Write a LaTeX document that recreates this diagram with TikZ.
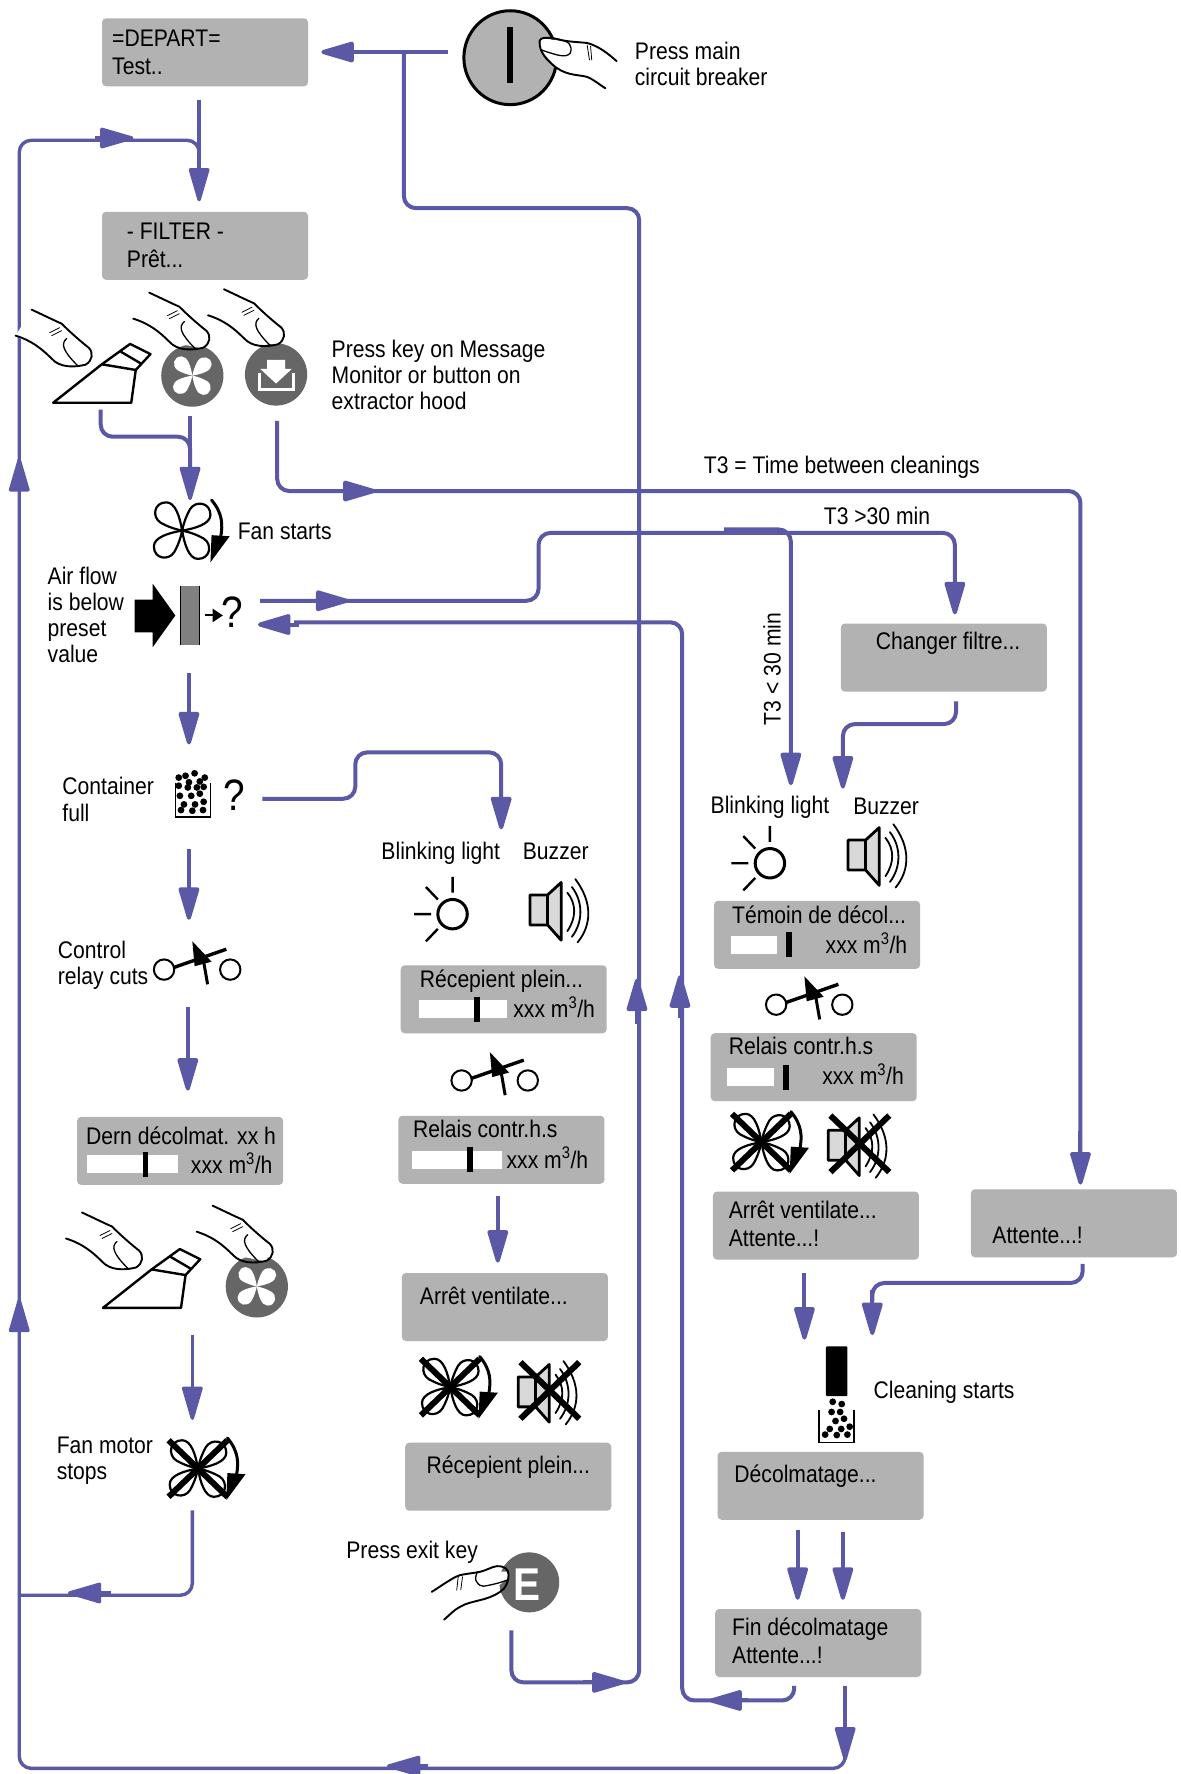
\documentclass[tikz,border=0pt]{standalone}
\usepackage{fontspec}
\setmainfont{Liberation Sans}[FakeStretch=0.88]
\usetikzlibrary{arrows.meta}
\definecolor{flowc}{HTML}{5B58A6}
\definecolor{lcdc}{HTML}{B2B2B2}
\definecolor{darkc}{HTML}{666666}
\definecolor{spkc}{HTML}{D9D9D9}
\newcommand\petal{(0,0) .. controls (-2,-12) and (-6,-25) .. (-14,-25) .. controls (-25,-25) and (-27,-12) .. (-19,-7) .. controls (-12,-3) and (-5,-1) .. (0,0)}
\tikzset{
  flow/.style={draw=flowc,line width=4pt,line join=round},
  elbow/.style={rounded corners=12pt},
  tipped/.style={-{Triangle[length=38pt,width=21pt,round=false]}},
  lcd/.style={fill=lcdc,rounded corners=4pt,anchor=north west,minimum width=206pt,minimum height=68pt,inner sep=0pt},
  lab/.style={anchor=west,align=left,inner sep=0pt,yshift=-3pt,font=\fontsize{24}{26}\selectfont},
  rlab/.style={lab,anchor=east},
  qm/.style={inner sep=0pt,font=\fontsize{44}{44}\selectfont},
  ink/.style={draw=black,line width=2.4pt,line cap=round,line join=round},
  thinink/.style={draw=black,line width=1.1pt,line cap=round},
  fanblades/.pic={
    \foreach \a in {0,90,180,270}
      \draw[black,line width=2.2pt,line join=round,rotate=\a] \petal;
  },
  spinner/.pic={
    \draw[black,line width=3pt,line cap=round] (26,-27) .. controls (36,-15) and (36,-5) .. (34,6);
    \fill[black] (26,4) -- (42,5) -- (25,28) -- cycle;
  },
  fingerdown/.pic={
    \fill[white] (-60,-49) -- (-30,-35) -- (-2,-10) -- (-6,7) -- (-40,0) -- (-76,-23) -- cycle;
    \draw[ink,line width=1.9pt] (-60,-49) .. controls (-45,-42) and (-37,-38) .. (-30,-35) .. controls (-22,-27) and (-12,-18) .. (-3,-11) .. controls (2,-6) and (1,2) .. (-6,6) .. controls (-18,9) and (-32,9) .. (-40,0) .. controls (-50,-10) and (-60,-18) .. (-76,-23);
    \draw[thinink,line width=1.3pt] (-25,-20) .. controls (-31,-15) and (-29,-8) .. (-14,7);
    \draw[thinink,line width=.8pt] (-42,-26) -- (-32,-31) (-40,-23) -- (-30,-28);
  },
  hood/.pic={
    \draw[ink] (0,0) -- (69,0) -- (73,-29) -- (43,-34) -- cycle;
    \draw[ink] (43,-34) -- (68,-52) -- (86,-43) -- (73,-29);
    \draw[ink] (60,-45) -- (77,-35);
  },
  fanbutton/.pic={
    \fill[darkc] (0,0) circle (27.5);
    \foreach \a in {0,90,180,270}
      \fill[white,rotate=\a,scale=.68] \petal;
  },
  spark/.pic={
    \draw[ink,line width=3pt] (0,0) circle (13);
    \draw[ink,line cap=butt] (0,-33) -- (0,-19) (-34,0) -- (-19,0) (-23.5,-24) -- (-13,-13) (-23.5,24) -- (-13,13);
  },
  speaker/.pic={
    \draw[ink,line width=2.8pt,fill=spkc,line cap=butt,miter limit=10] (15.5,0) -- (0,0) -- (0,26.5) -- (15.5,26.5) -- (27.5,40) -- (27.5,-11) -- cycle;
    \draw[ink,line width=2.8pt] (15.5,0) -- (15.5,26.5);
    \draw[ink,line width=1.8pt] (33,-2) .. controls (41,8) and (41,20) .. (33,32);
    \draw[ink,line width=1.8pt] (37,-7) .. controls (47,6) and (47,24) .. (37,37);
    \draw[ink,line width=1.8pt] (40,-14) .. controls (55,6) and (55,26) .. (42,42);
  },
  relay/.pic={
    \draw[ink,line width=2pt] (0,0) circle (9) (58.5,0) circle (9);
    \draw[ink,line width=3.4pt,line cap=butt] (9,-2) -- (55,-18);
    \fill[black] (25,-25) -- (27,-3) -- (42,-7) -- cycle;
    \draw[ink,line width=3pt,line cap=butt] (35,-7) -- (38.5,13);
  },
  cross/.pic={
    \draw[black,line width=6pt] (-26,-25) -- (26,25) (-26,25) -- (26,-25);
  },
}
\newcommand\lab[4]{\node[lab] (#1) at (#2,#3) {\strut #4\strut};}
\newcommand\rlab[4]{\node[rlab] (#1) at (#2,#3) {\strut #4\strut};}
\newcommand\lcdbox[3]{\node[lcd] (#1) at (#2,#3) {};}
\newcommand\lcdbar[4]{\fill[white] (#1,#4) rectangle (#2,#4+16);\fill[black] (#3,#4-3) rectangle (#3+5,#4+19);}
\newcommand\mm{xxx m\textsuperscript{3}/h}
\begin{document}
\begin{tikzpicture}[x=1.1313pt,y=-1.1313pt]
\useasboundingbox[fill=white] (0,0) rectangle (1043,1568);

% display boxes
\lcdbox{bstart}{90}{16}
\lcdbox{bfilter}{90}{187}
\lcdbox{bchanger}{743}{551}
\lcdbox{btemoin}{631}{796}
\lcdbox{brelaisr}{628}{913}
\lcdbox{barretr}{630}{1053}
\lcdbox{battente}{858}{1051}
\lcdbox{bdecol}{634}{1283}
\lcdbox{bfin}{632}{1422}
\lcdbox{bdern}{68}{987}
\lcdbox{brecip}{354}{853}
\lcdbox{brelaism}{352}{986}
\lcdbox{barretm}{355}{1125}
\lcdbox{brecipb}{358}{1275}

\lab{tstart}{99}{46}{=DEPART=\\[1.7pt]Test..}
\lab{tfilter}{112}{217}{- FILTER -\\[1.7pt]Prêt...}
\lab{tchanger}{774}{567}{Changer filtre...}
\lab{ttemoin}{647}{809}{Témoin de décol...}
\rlab{mtemoin}{802}{834}{\mm}
\lab{trelaisr}{644}{925}{Relais contr.h.s}
\rlab{mrelaisr}{799}{950}{\mm}
\lab{tarretr}{644}{1082}{Arrêt ventilate...\\[1.7pt]Attente...!}
\lab{tattente}{877}{1092}{Attente...!}
\lab{tdecol}{649}{1303}{Décolmatage...}
\lab{tfin}{647}{1451}{Fin décolmatage\\[1.7pt]Attente...!}
\lab{tdern}{76}{1004}{Dern décolmat. xx h}
\rlab{mdern}{241}{1029}{\mm}
\lab{trecip}{371}{866}{Récepient plein...}
\rlab{mrecip}{526}{891}{\mm}
\lab{trelaism}{365}{998}{Relais contr.h.s}
\rlab{mrelaism}{520}{1024}{\mm}
\lab{tarretm}{371}{1146}{Arrêt ventilate...}
\lab{trecipb}{377}{1295}{Récepient plein...}

\lcdbar{646}{687}{695}{827}
\lcdbar{643}{684}{692}{944}
\lcdbar{77}{157}{126}{1021}
\lcdbar{370}{448}{419}{884}
\lcdbar{364}{444}{413}{1017}

% free labels
\lab{lbreaker}{561}{57}{Press main\\circuit breaker}
\lab{lkey}{293}{332}{Press key on Message\\Monitor or button on\\extractor hood}
\lab{lfan}{210}{470}{Fan starts}
\lab{lair}{42}{544}{Air flow\\is below\\preset\\value}
\lab{lcont}{55}{707}{Container\\[1pt]full}
\lab{lctrl}{51}{851}{Control\\relay cuts}
\lab{lblinkm}{337}{752}{Blinking light}
\lab{lbuzzm}{462}{752}{Buzzer}
\lab{lblinkr}{628}{712}{Blinking light}
\lab{lbuzzr}{754}{713}{Buzzer}
\lab{lclean}{772}{1229}{Cleaning starts}
\lab{lmotor}{50}{1289}{Fan motor\\stops}
\lab{lexit}{306}{1370}{Press exit key}
\lab{lthree}{622}{411}{T3 = Time between cleanings}
\lab{lgt}{728}{456}{T3 >30 min}
\node[lab,anchor=center,rotate=90,xshift=-3pt,yshift=3pt] (llt) at (688,586) {\strut T3 < 30 min\strut};
\node[qm] (qair) at (205,541) {?};
\node[qm] (qcont) at (207,703) {?};

% connector ends
\coordinate (cbrk) at (396,46);
\coordinate (cstartin) at (284,46);
\coordinate (cexit) at (452,1441);
\coordinate (cstartout) at (176,88);
\coordinate (cfilterin) at (176,178);
\coordinate (cfintail) at (747,1490);
\coordinate (cfinout) at (747,1556);
\coordinate (cmotor) at (170,1335);
\coordinate (chood) at (89,362);
\coordinate (cfanbtn) at (168,368);
\coordinate (cfanin) at (168,442);
\coordinate (cload) at (245,372);
\coordinate (cattin) at (955,1047);
\coordinate (cairout) at (230,531);
\coordinate (cchgin) at (844,543);
\coordinate (cbranch) at (640,468);
\coordinate (cblinkin) at (699,694);
\coordinate (cfinback) at (702,1490);
\coordinate (cairin) at (228,552);
\coordinate (cconta) at (167,595);
\coordinate (ccontb) at (167,658);
\coordinate (cfulla) at (167,750);
\coordinate (cfullb) at (167,813);
\coordinate (crela) at (166,890);
\coordinate (crelb) at (166,964);
\coordinate (cqfull) at (232,706);
\coordinate (cblinkm) at (443,733);
\coordinate (carra) at (440,1057);
\coordinate (carrb) at (440,1116);
\coordinate (cprea) at (170,1180);
\coordinate (cpreb) at (170,1255);
\coordinate (cara) at (711,1125);
\coordinate (carb) at (711,1184);
\coordinate (catta) at (957,1117);
\coordinate (cattb) at (771,1180);
\coordinate (cchga) at (845,620);
\coordinate (cchgb) at (745,697);
\coordinate (cdeca) at (705,1352);
\coordinate (cdecb) at (705,1414);
\coordinate (cdeea) at (745,1354);
\coordinate (cdeeb) at (745,1414);

% connectors
\draw[flow,tipped] (cbrk) -- (cstartin);
\draw[flow,elbow] (cexit) -- (452,1487) -- (565,1487) -- (565,184) -- (357,184) -- (357,46);
\draw[flow,tipped] (515,1487) -- (552,1487);
\draw[flow,tipped] (563,905) -- (563,865);
\draw[flow,line width=3.4pt,tipped] (cstartout) -- (cfilterin);
\draw[flow,line width=3.4pt,tipped] (cfintail) -- (cfinout);
\draw[flow,elbow,line width=3.4pt] (747,1540) -- (747,1563) -- (17,1563) -- (17,124) -- (176,124) -- (176,140);
\draw[flow,line width=3.4pt,tipped] (378,1561) -- (342,1561);
\draw[flow,line width=3.4pt,tipped] (17,1180) -- (17,1148);
\draw[flow,line width=3.4pt,tipped] (17,438) -- (17,405);
\draw[flow,line width=3.4pt,tipped] (84,122) -- (118,122);
\draw[flow,elbow,line width=3.4pt] (cmotor) -- (170,1410) -- (17,1410);
\draw[flow,line width=3.4pt,tipped] (98,1408) -- (60,1408);
\draw[flow,elbow] (chood) -- (89,386) -- (168,386) -- (168,415);
\draw[flow,line width=3.4pt,tipped] (cfanbtn) -- (cfanin);
\draw[flow,elbow] (cload) -- (245,434) -- (955,434) -- (955,1020);
\draw[flow,tipped] (955,1000) -- (cattin);
\draw[flow,tipped] (296,434) -- (332,434);
\draw[flow,elbow] (cairout) -- (476,531) -- (476,471) -- (844,471) -- (844,515);
\draw[flow,tipped] (272,531) -- (308,531);
\draw[flow,tipped] (844,500) -- (cchgin);
\draw[flow,elbow] (cbranch) -- (699,468) -- (699,665);
\draw[flow,tipped] (699,650) -- (cblinkin);
\draw[flow,elbow] (cfinback) -- (702,1503) -- (603,1503) -- (603,550) -- (260,550);
\draw[flow,tipped] (264,552) -- (cairin);
\draw[flow,tipped] (601,900) -- (601,862);
\draw[flow,tipped] (661,1503) -- (627,1503);
\draw[flow,tipped] (cconta) -- (ccontb);
\draw[flow,tipped] (cfulla) -- (cfullb);
\draw[flow,tipped] (crela) -- (crelb);
\draw[flow,elbow] (cqfull) -- (314,706) -- (314,665) -- (443,665) -- (443,705);
\draw[flow,tipped] (443,690) -- (cblinkm);
\draw[flow,tipped] (carra) -- (carrb);
\draw[flow,line width=3.4pt,tipped] (cprea) -- (cpreb);
\draw[flow,tipped] (cara) -- (carb);
\draw[flow,elbow] (catta) -- (957,1134) -- (771,1134) -- (771,1150);
\draw[flow,tipped] (771,1140) -- (cattb);
\draw[flow,elbow] (cchga) -- (845,640) -- (745,640) -- (745,670);
\draw[flow,tipped] (745,650) -- (cchgb);
\draw[flow,tipped] (cdeca) -- (cdecb);
\draw[flow,tipped] (cdeea) -- (cdeeb);

% main breaker
\draw[black,line width=3pt,fill=lcdc] (451,51) ellipse (41 and 41.5);
\fill[black] (448.5,24) rectangle (453.5,73);
\fill[white] (478,34) -- (519,38) -- (545,54) -- (535,78) -- (519,68) -- (492,60) -- (478,44) -- cycle;
\draw[ink,line width=1.9pt] (477,36) .. controls (478,33) and (482,33) .. (490,34) .. controls (500,37) and (510,37) .. (519,38) .. controls (530,41) and (538,48) .. (545,54);
\draw[ink,line width=1.9pt] (477,36) .. controls (476,46) and (484,54) .. (492,60) .. controls (502,67) and (512,66) .. (519,68) .. controls (526,71) and (530,75) .. (535,78);
\draw[thinink,line width=1.3pt] (490,34) .. controls (505,36) and (506,41) .. (504,47) .. controls (500,52) and (490,48) .. (478,44);
\draw[thinink,line width=.8pt] (519,40) -- (521,53) (522,41) -- (523,53);

% key row
\pic at (47,356) {hood};
\pic at (170,332) {fanbutton};
\fill[darkc] (244,331) circle (27.5);
\fill[white] (236,318) -- (252,318) -- (252,326) -- (258,326) -- (244,339) -- (230,326) -- (236,326) -- cycle;
\draw[white,line width=3pt] (229,330) -- (229,344) -- (259,344) -- (259,330);
\pic[scale=.884] at (81,317) {fingerdown};
\pic[scale=.884] at (185,302) {fingerdown};
\pic[scale=.884] at (251,299) {fingerdown};

% second key row
\pic at (91,1156) {hood};
\pic at (227,1137) {fanbutton};
\pic[scale=.884] at (125.5,1115) {fingerdown};
\pic[scale=.884] at (241,1109) {fingerdown};

% fan starts
\pic at (161,469) {fanblades};
\pic at (161,469) {spinner};

% air flow
\fill[black] (119,530) -- (135,530) -- (135,516) -- (155,544) -- (135,572) -- (135,559) -- (119,559) -- cycle;
\fill[gray] (159,518) rectangle (177,570);
\draw[black,line width=1.5pt] (159.5,518) -- (159.5,570) (176.5,518) -- (176.5,570);
\draw[black,line width=2pt] (181,544) -- (190,544);
\fill[black] (188,538) -- (197,544) -- (188,550) -- cycle;

% container full
\draw[black,line width=1.6pt] (155,692) -- (155,722) -- (186,722) -- (186,692);
\foreach \x/\y in {17/3.5,9/5.7,3/7.3,26/7.3,12/11.4,21.6/10.7,3/14.5,11/16,19/16,25/15.5,21.6/21.5,4/23.4,14/23.4,25/28.7,17.4/31,7.6/31,5/36,15/36.6,24.4/36}
  \fill[black] (155+\x,680+\y) circle (3);

% relays
\pic at (145,857) {relay};
\pic at (408,955) {relay};
\pic at (686,888) {relay};

% lights and buzzers
\pic at (400,808) {spark};
\pic at (468.5,791) {speaker};
\pic at (680.5,763) {spark};
\pic at (749.6,742.5) {speaker};

% stopped fans and buzzers
\pic at (398,1226) {fanblades};
\pic at (398,1226) {spinner};
\pic at (398,1226) {cross};
\pic at (458,1217) {speaker};
\pic at (486,1229) {cross};
\pic at (673,1009.5) {fanblades};
\pic at (673,1009.5) {spinner};
\pic at (673,1009.5) {cross};
\pic at (732,999) {speaker};
\pic at (760,1011) {cross};
\pic at (175,1298) {fanblades};
\pic at (175,1298) {spinner};
\pic at (175,1298) {cross};

% exit key
\fill[darkc] (467.8,1398.6) circle (26.5);
\node[inner sep=0pt,text=white,font=\fontsize{46}{46}\bfseries\selectfont] (ekey) at (466,1401) {E};
\fill[white] (381.6,1407) -- (424,1389) -- (449.4,1389) -- (449.4,1395) -- (424,1414) -- (392.5,1431.5) -- cycle;
\draw[ink,line width=1.9pt] (381.6,1407) .. controls (388,1403) and (392,1400) .. (397.8,1396.6) .. controls (402,1394) and (404,1393) .. (406.6,1392.2) .. controls (412,1391) and (418,1390.5) .. (424.3,1389.3) .. controls (430,1388) and (434,1385) .. (439,1384.3) .. controls (446,1384) and (449.5,1387) .. (449.5,1392) .. controls (449.5,1398) and (447,1404) .. (442,1407) .. controls (436,1411) and (430,1413) .. (424.3,1414.3) .. controls (418,1416) and (412,1417) .. (406.6,1420.2) .. controls (401,1423) and (397,1428) .. (392.5,1431.5);
\draw[thinink,line width=1.3pt] (422,1389.3) .. controls (420,1393) and (420,1397) .. (421.3,1398) .. controls (423,1401) and (425,1402) .. (427.3,1402) .. controls (434,1401) and (442,1399) .. (448,1396.7);
\draw[thinink,line width=.8pt] (403.7,1405.5) -- (405,1393.7) (407.3,1405) -- (408.8,1393.7);

% cleaning
\fill[black,rounded corners=1pt] (730,1190) rectangle (749,1234);
\draw[black,line width=1.6pt] (724,1246) -- (724,1275) -- (755,1275) -- (755,1246);
\foreach \x/\y in {12/-7,20/-5,11/2,18.6/2,14.5/10,22/8,9.4/17,19.5/17,27/15,5.3/22,15.6/22.4,25/22}
  \fill[black] (724+\x,1246+\y) circle (3);
\end{tikzpicture}
\end{document}
